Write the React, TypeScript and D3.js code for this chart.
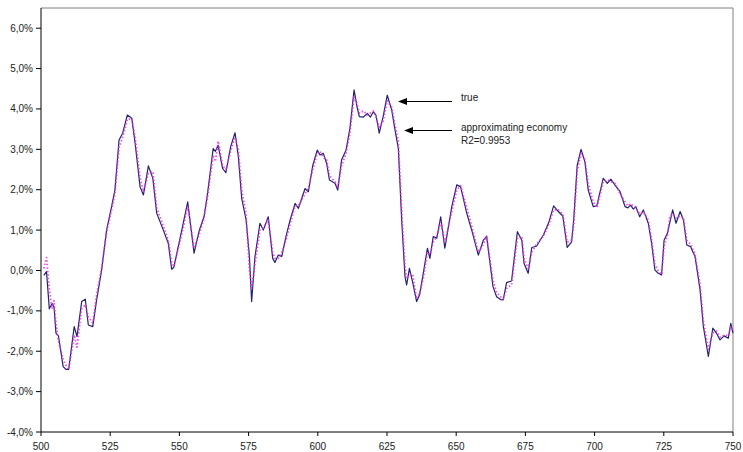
import React from "react";
import * as d3 from "d3";

const periods: number[] = [
  501, 502, 503, 504, 504.7, 505.4, 506.3, 508, 509, 510, 512, 513, 514.7, 516, 517.1, 518.7, 520.1, 521.9, 523.7, 525.5,
  526.7, 528.2, 529.5, 531.2, 532.8, 534, 535.8, 537, 538.8, 540.4, 541.8, 544.2, 546, 547.2, 548, 551.4, 553, 555.3, 557.2, 558.9,
  560.1, 562.2, 563, 564, 565.6, 566.8, 568.5, 570.1, 571.3, 572.5, 574.1, 575.3, 576.1, 577.3, 579.1, 580.3, 582.1, 583.7, 584.5, 585.7,
  587, 588.5, 590, 591.8, 593, 595.4, 596.6, 598.2, 599.8, 600.8, 602, 603.2, 604.2, 606.2, 607.2, 608.6, 610.2, 611.6, 613.1, 614.3,
  615, 616.5, 617.9, 619, 620.1, 621, 622.2, 623.6, 625.1, 626.7, 627.9, 629.1, 630.3, 631.5, 632.1, 633.1, 634.3, 635.7, 636.8, 638.1,
  639.6, 640.5, 641.7, 643, 644.4, 645.9, 648.4, 650.2, 651.6, 653.8, 655.8, 658, 659.8, 661, 663.3, 664.6, 666, 667, 668.2, 670,
  672.1, 673.7, 674.5, 676, 677.3, 679, 681.5, 683.5, 685.2, 686.9, 688.5, 690.1, 691.7, 692.5, 693.7, 695.1, 696.5, 697.7, 699.5, 700.8,
  703.1, 704.6, 705.9, 707.5, 709.2, 711, 712, 713, 714, 714.9, 716.3, 717.6, 719.4, 720.6, 721.8, 723, 724.2, 725.1, 726.3, 727.2,
  728.2, 729.4, 730.9, 732.1, 733.3, 734.7, 736.3, 738.1, 739.3, 741.1, 742.7, 744, 745.3, 746.8, 748.3, 749.2, 750,
];

const trueSeries: number[] = [
  -0.12, -0.03, -0.95, -0.82, -0.9, -1.55, -1.62, -2.38, -2.45, -2.45, -1.39, -1.64, -0.77, -0.71, -1.35, -1.39, -0.73, 0.01, 1.0, 1.58,
  1.99, 3.23, 3.4, 3.85, 3.77, 3.15, 2.07, 1.87, 2.59, 2.28, 1.42, 1.0, 0.67, 0.03, 0.08, 1.17, 1.7, 0.43, 1.0, 1.33,
  1.87, 3.02, 2.95, 3.1, 2.53, 2.42, 3.06, 3.41, 2.82, 1.79, 1.25, 0.34, -0.77, 0.34, 1.17, 1.0, 1.33, 0.3, 0.2, 0.38,
  0.35, 0.84, 1.25, 1.66, 1.54, 2.03, 1.95, 2.61, 2.98, 2.86, 2.9, 2.65, 2.24, 2.16, 1.99, 2.74, 2.98, 3.52, 4.47, 4.01,
  3.81, 3.8, 3.89, 3.8, 3.93, 3.85, 3.4, 3.81, 4.34, 3.97, 3.48, 3.02, 1.25, -0.15, -0.36, 0.05, -0.3, -0.77, -0.6, -0.07,
  0.55, 0.3, 0.84, 0.8, 1.33, 0.55, 1.58, 2.12, 2.07, 1.42, 0.95, 0.38, 0.75, 0.84, -0.4, -0.65, -0.72, -0.73, -0.3, -0.26,
  0.96, 0.75, 0.18, -0.07, 0.57, 0.6, 0.88, 1.2, 1.6, 1.46, 1.35, 0.57, 0.71, 1.3, 2.6, 3.0, 2.69, 1.99, 1.58, 1.6,
  2.28, 2.16, 2.26, 2.1, 1.95, 1.58, 1.55, 1.62, 1.52, 1.58, 1.33, 1.5, 1.17, 0.67, 0.01, -0.07, -0.11, 0.75, 0.92, 1.2,
  1.5, 1.17, 1.46, 1.25, 0.63, 0.59, 0.34, -0.48, -1.39, -2.13, -1.43, -1.55, -1.72, -1.62, -1.68, -1.31, -1.55,
];

const approxSeries: number[] = [
  0.05, 0.32, -0.45, -0.95, -0.75, -1.3, -1.75, -2.2, -2.35, -2.45, -1.6, -1.9, -0.95, -0.85, -1.15, -1.3, -0.6, 0.05, 0.95, 1.5,
  1.9, 3.05, 3.3, 3.75, 3.75, 3.3, 2.3, 1.95, 2.4, 2.45, 1.55, 1.1, 0.75, 0.2, 0.1, 1.05, 1.6, 0.55, 0.9, 1.3,
  1.8, 2.85, 2.7, 3.2, 2.6, 2.5, 2.95, 3.3, 3.0, 2.0, 1.4, 0.0, -0.45, 0.15, 1.0, 1.05, 1.25, 0.45, 0.3, 0.3,
  0.45, 0.75, 1.15, 1.6, 1.6, 1.9, 2.05, 2.5, 2.9, 2.95, 2.8, 2.75, 2.35, 2.2, 2.05, 2.6, 2.9, 3.4, 4.3, 4.1,
  3.9, 3.95, 3.85, 3.9, 3.95, 3.8, 3.55, 3.7, 4.2, 4.05, 3.6, 3.2, 1.5, 0.1, -0.2, -0.1, -0.1, -0.7, -0.55, -0.2,
  0.45, 0.4, 0.7, 0.85, 1.2, 0.7, 1.45, 2.0, 2.1, 1.55, 1.05, 0.45, 0.65, 0.85, -0.25, -0.55, -0.65, -0.7, -0.45, -0.35,
  0.8, 0.85, 0.3, 0.05, 0.45, 0.65, 0.85, 1.15, 1.5, 1.5, 1.4, 0.7, 0.75, 1.15, 2.45, 2.9, 2.75, 2.15, 1.7, 1.55,
  2.2, 2.25, 2.2, 2.15, 1.9, 1.7, 1.6, 1.65, 1.6, 1.55, 1.4, 1.45, 1.25, 0.75, 0.15, 0.0, -0.1, 0.6, 0.85, 1.35,
  1.4, 1.3, 1.35, 1.3, 0.75, 0.65, 0.4, -0.35, -1.25, -1.95, -1.55, -1.5, -1.65, -1.6, -1.62, -1.4, -1.5,
];

const yTicks: number[] = [-4, -3, -2, -1, 0, 1, 2, 3, 4, 5, 6];
const xTicks: number[] = [500, 525, 550, 575, 600, 625, 650, 675, 700, 725, 750];

const W = 743;
const H = 452;
const left = 41;
const right = 733;
const top = 8;
const bottom = 432;

export default function App() {
  const x = d3.scaleLinear().domain([500, 750]).range([left, right]);
  const y = d3.scaleLinear().domain([-4, 6.5]).range([bottom, top]);

  const line = d3
    .line<number>()
    .x((_, i) => x(periods[i]))
    .y((d) => y(d))
    .curve(d3.curveLinear);

  const fmt = (v: number) => v.toFixed(1).replace(".", ",") + "%";
  const font = "Liberation Sans, Arial, sans-serif";

  const arrows = [
    { tip: 398, tail: 452, yy: 101.5 },
    { tip: 404, tail: 452, yy: 130.5 },
  ];

  return (
    <svg
      width={W}
      height={H}
      style={{ position: "absolute", left: 0, top: 0, background: "#fff" }}
      fontFamily={font}
    >
      {/* frame */}
      <line x1={left} x2={right} y1={top} y2={top} stroke="#808080" strokeWidth={1} />
      <line x1={right} x2={right} y1={top} y2={bottom} stroke="#808080" strokeWidth={1} />
      {/* y axis */}
      <line x1={left} x2={left} y1={top} y2={bottom} stroke="#000" strokeWidth={1} />
      {yTicks.map((t) => (
        <g key={"y" + t}>
          <line x1={left - 5} x2={left} y1={y(t)} y2={y(t)} stroke="#000" />
          <text x={left - 8} y={y(t) + 3.5} textAnchor="end" fontSize={10} fill="#222">
            {fmt(t)}
          </text>
        </g>
      ))}
      {/* x axis */}
      <line x1={left} x2={right} y1={bottom} y2={bottom} stroke="#000" strokeWidth={1} />
      {xTicks.map((t) => (
        <g key={"x" + t}>
          <line x1={x(t)} x2={x(t)} y1={bottom} y2={bottom + 4} stroke="#000" />
          <text x={x(t)} y={bottom + 18} textAnchor="middle" fontSize={10} fill="#222">
            {t}
          </text>
        </g>
      ))}
      {/* series */}
      <path d={line(trueSeries) || ""} fill="none" stroke="#22226e" strokeWidth={1.2} strokeLinejoin="round" />
      <path
        d={line(approxSeries) || ""}
        fill="none"
        stroke="#e632e6"
        strokeWidth={1.8}
        strokeOpacity={0.85}
        strokeDasharray="1.5,2"
        strokeLinejoin="round"
      />
      {/* annotations */}
      {arrows.map((a, i) => (
        <g key={"a" + i}>
          <line x1={a.tail} x2={a.tip + 6} y1={a.yy} y2={a.yy} stroke="#000" strokeWidth={1} />
          <path d={`M${a.tip},${a.yy} L${a.tip + 9},${a.yy - 3.5} L${a.tip + 9},${a.yy + 3.5} Z`} fill="#000" />
        </g>
      ))}
      <text x={461} y={101} fontSize={10} fill="#222">true</text>
      <text x={461} y={131} fontSize={10} fill="#222">approximating economy</text>
      <text x={461} y={144} fontSize={10} fill="#222">R2=0.9953</text>
    </svg>
  );
}
